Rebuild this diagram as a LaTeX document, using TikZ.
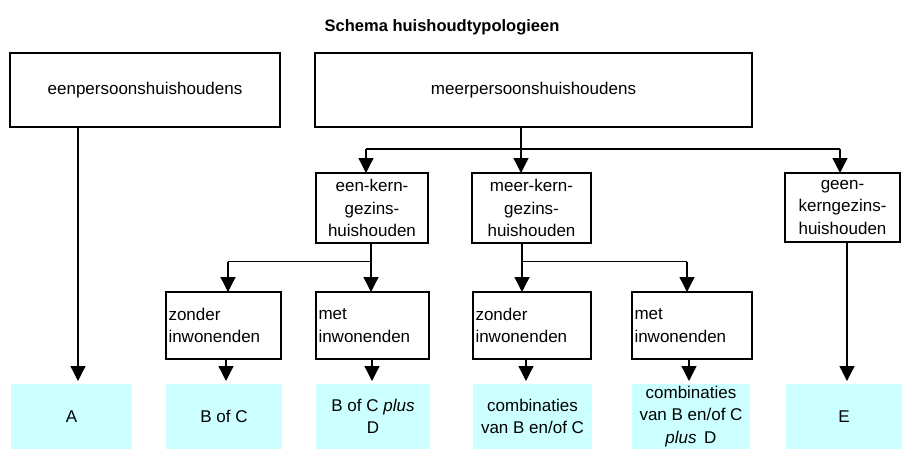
\documentclass[tikz,border=0pt]{standalone}
\usepackage{fontspec}
\setmainfont{Liberation Sans}
\usetikzlibrary{arrows.meta}
\definecolor{cyanbox}{HTML}{CCFFFF}
\begin{document}
\begin{tikzpicture}[x=1pt,y=-1pt,
  every node/.style={inner sep=0pt, outer sep=0pt, font=\fontsize{17}{22.5}\selectfont},
  frame/.style={draw=black, line width=2.4pt, fill=white, align=center},
  result/.style={fill=cyanbox, align=center, minimum height=65pt},
  conn/.style={draw=black, line width=1.3pt},
  arr/.style={conn, -{Triangle[length=15pt,width=15pt]}},
  arrgap/.style={arr, shorten >=3pt}
]
\useasboundingbox (0,0) rectangle (902,450);

% title
\node[font=\fontsize{16.5}{20}\selectfont\bfseries] (title) at (442,27) {Schema huishoudtypologieen};

% top boxes
\node[frame, minimum width=270pt, minimum height=74pt] (b1) at (145,90) {eenpersoonshuishoudens};
\node[frame, minimum width=437pt, minimum height=74pt] (b2) at (533.5,90) {meerpersoonshuishoudens};

% middle boxes
\node[frame, minimum width=112pt, minimum height=70pt] (k1) at (372,208) {een-kern-\\gezins-\\huishouden};
\node[frame, minimum width=119pt, minimum height=70pt] (k2) at (531.5,208) {meer-kern-\\gezins-\\huishouden};
\node[frame, minimum width=115pt, minimum height=69pt] (k3) at (842.5,207.5) {geen-\\kerngezins-\\huishouden};

% lower boxes
\node[frame, minimum width=115pt, minimum height=67pt, align=left, text width=110pt] (z1) at (223.5,325.5) {zonder\\inwonenden};
\node[frame, minimum width=113pt, minimum height=67pt, align=left, text width=108pt] (m1) at (372.5,325.5) {met\\inwonenden};
\node[frame, minimum width=118pt, minimum height=67pt, align=left, text width=113pt] (z2) at (532,325.5) {zonder\\inwonenden};
\node[frame, minimum width=120pt, minimum height=67pt, align=left, text width=115pt] (m2) at (692,325.5) {met\\inwonenden};

% result boxes
\node[result, minimum width=121pt] (rA) at (71.5,416.5) {A};
\node[result, minimum width=116pt] (rB) at (224,416.5) {B of C};
\node[result, minimum width=114pt] (rC) at (373,416.5) {B of C \textit{plus}\\D};
\node[result, minimum width=119pt] (rD) at (532.5,416.5) {combinaties\\van B en/of C};
\node[result, minimum width=118pt] (rDp) at (691,416.5) {combinaties\\van B en/of C\\\textit{plus}\, D};
\node[result, minimum width=116pt] (rE) at (844,416.5) {E};

% x positions of the connectors
\coordinate (xa) at (78,0);
\coordinate (xb2) at (521,0);
\coordinate (xk1) at (366,0);
\coordinate (xk3) at (840,0);
\coordinate (xk1s) at (371,0);
\coordinate (xz1) at (228,0);
\coordinate (xk2s) at (522,0);
\coordinate (xm2) at (687,0);
\coordinate (xe) at (847,0);
\coordinate (xrb) at (226,0);
\coordinate (xrc) at (372,0);
\coordinate (xrd) at (526,0);
\coordinate (xrdp) at (689,0);

% junction rows
\coordinate (row1) at (0,149);
\coordinate (row2) at (0,261.5);

% eenpersoons -> A
\draw[arrgap] (b1.south -| xa) -- (rA.north -| xa);

% meerpersoons -> kern boxes
\draw[conn] (b2.south -| xb2) -- (row1 -| xb2);
\draw[conn] (row1 -| xk1) -- (row1 -| xk3);
\draw[arr] (row1 -| xk1) -- (k1.north -| xk1);
\draw[arr] (row1 -| xb2) -- (k2.north -| xb2);
\draw[arr] (row1 -| xk3) -- (k3.north -| xk3);

% een-kern -> zonder/met
\draw[conn] (k1.south -| xk1s) -- (row2 -| xk1s) -- (row2 -| xz1);
\draw[arr] (row2 -| xz1) -- (z1.north -| xz1);
\draw[arr] (row2 -| xk1s) -- (m1.north -| xk1s);

% meer-kern -> zonder/met
\draw[conn] (k2.south -| xk2s) -- (row2 -| xk2s) -- (row2 -| xm2);
\draw[arr] (row2 -| xk2s) -- (z2.north -| xk2s);
\draw[arr] (row2 -| xm2) -- (m2.north -| xm2);

% geen-kern -> E
\draw[arrgap] (k3.south -| xe) -- (rE.north -| xe);

% lower boxes -> results
\draw[arrgap] (z1.south -| xrb) -- (rB.north -| xrb);
\draw[arrgap] (m1.south -| xrc) -- (rC.north -| xrc);
\draw[arrgap] (z2.south -| xrd) -- (rD.north -| xrd);
\draw[arrgap] (m2.south -| xrdp) -- (rDp.north -| xrdp);
\end{tikzpicture}
\end{document}
